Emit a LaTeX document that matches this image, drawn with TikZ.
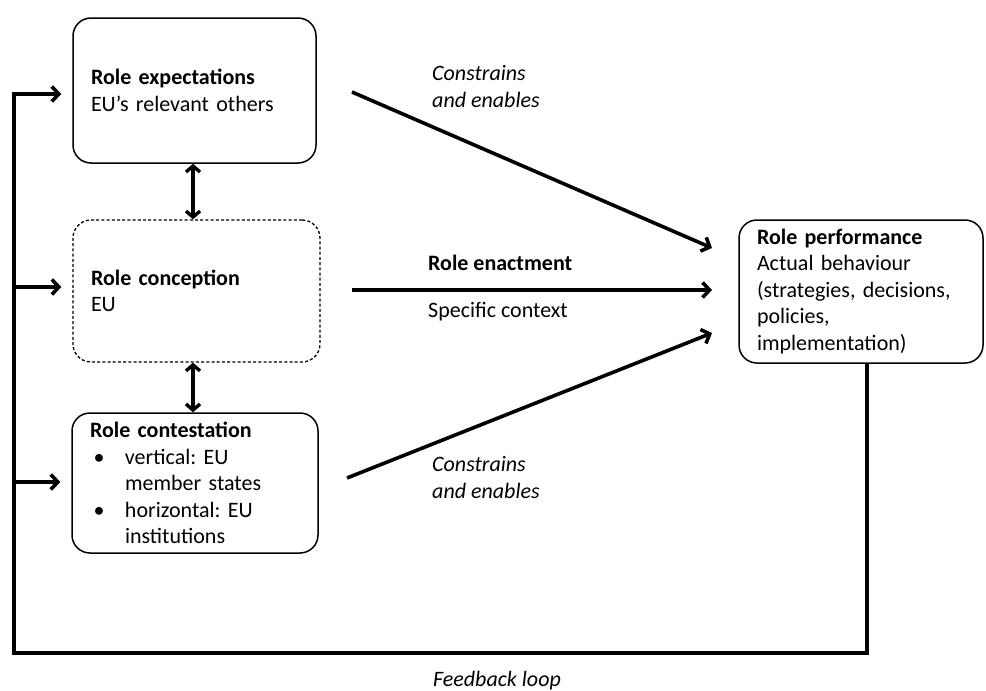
\documentclass[tikz,border=0pt]{standalone}
\usepackage{fontspec}
\setmainfont{Carlito}
\usetikzlibrary{arrows.meta}
\newcommand{\fsz}{\fontsize{22}{26.5}\selectfont\frenchspacing}
\tikzset{
  box/.style={draw, rounded corners=18pt, line width=1.5pt, inner xsep=18pt, inner ysep=0pt,
              align=left, font=\fsz, anchor=center},
  dashbox/.style={box, dash pattern=on 3pt off 2.2pt, line width=1.3pt},
  tip/.style={},
  arr/.style={line width=3.6pt, -{Straight Barb[length=7pt,width=15pt]}},
  dbl/.style={line width=3.4pt, {Straight Barb[length=6pt,width=14pt]}-{Straight Barb[length=6pt,width=14pt]}},
  fbline/.style={line width=3.6pt},
  lbl/.style={font=\fsz, align=left, anchor=west, inner sep=0pt},
}
\begin{document}
\begin{tikzpicture}[x=1pt,y=-1pt]
\useasboundingbox (0,0) rectangle (986,691);

\node[box, text width=207pt, minimum height=145pt] (exp) at (194.5,90.5)
  {\textbf{Role expectations}\\EU’s relevant others};
\node[dashbox, text width=211pt, minimum height=142pt] (con) at (196.5,291)
  {\textbf{Role conception}\\EU};
\node[box, text width=210pt, minimum height=140pt] (cst) at (195,483)
  {\textbf{Role contestation}\\
   \makebox[35pt][l]{\,\textbullet}vertical: EU\\
   \hspace*{35pt}member states\\
   \makebox[35pt][l]{\,\textbullet}horizontal: EU\\
   \hspace*{35pt}institutions};
\node[box, text width=208pt, minimum height=143pt] (perf) at (861,291.5)
  {\textbf{Role performance}\\Actual behaviour\\(strategies, decisions,\\policies,\\implementation)};

% double arrows
\draw[dbl] (exp.south -| 193,0) -- (con.north -| 193,0);
\draw[dbl] (con.south -| 193,0) -- (cst.north -| 193,0);

% main arrows
\coordinate (a1s) at (352,92);  \coordinate (a1e) at (712,248);
\coordinate (a2s) at (352,290); \coordinate (a2e) at (712,290);
\coordinate (a3s) at (347,478); \coordinate (a3e) at (712,333);
\draw[arr] (a1s) -- (a1e);
\draw[arr] (a2s) -- (a2e);
\draw[arr] (a3s) -- (a3e);

\node[lbl, font=\fsz\itshape] (l1) at (432,86.5) {Constrains\\and enables};
\node[lbl, font=\fsz\bfseries] (l2) at (428,263) {Role enactment};
\node[lbl] (l3) at (428,312) {Specific context};
\node[lbl, font=\fsz\itshape] (l4) at (432,477.5) {Constrains\\and enables};

% feedback loop
\coordinate (fbr) at (867,653);
\coordinate (fbl) at (14,653);
\coordinate (fbt) at (14,94);
\coordinate (fbm) at (14,287);
\coordinate (fbb) at (14,482);
\draw[fbline, line join=miter] (perf.south -| fbr) -- (fbr) -- (fbl) -- (fbt);
\draw[arr, shorten >=11pt] ([xshift=-1.8pt]fbt) -- (exp.west |- fbt);
\draw[arr, shorten >=11pt] (fbm) -- (con.west |- fbm);
\draw[arr, shorten >=11pt] (fbb) -- (cst.west |- fbb);
\node[font=\fsz\itshape, inner sep=0pt, anchor=base] (fbk) at (497,686) {Feedback loop};
\end{tikzpicture}
\end{document}
